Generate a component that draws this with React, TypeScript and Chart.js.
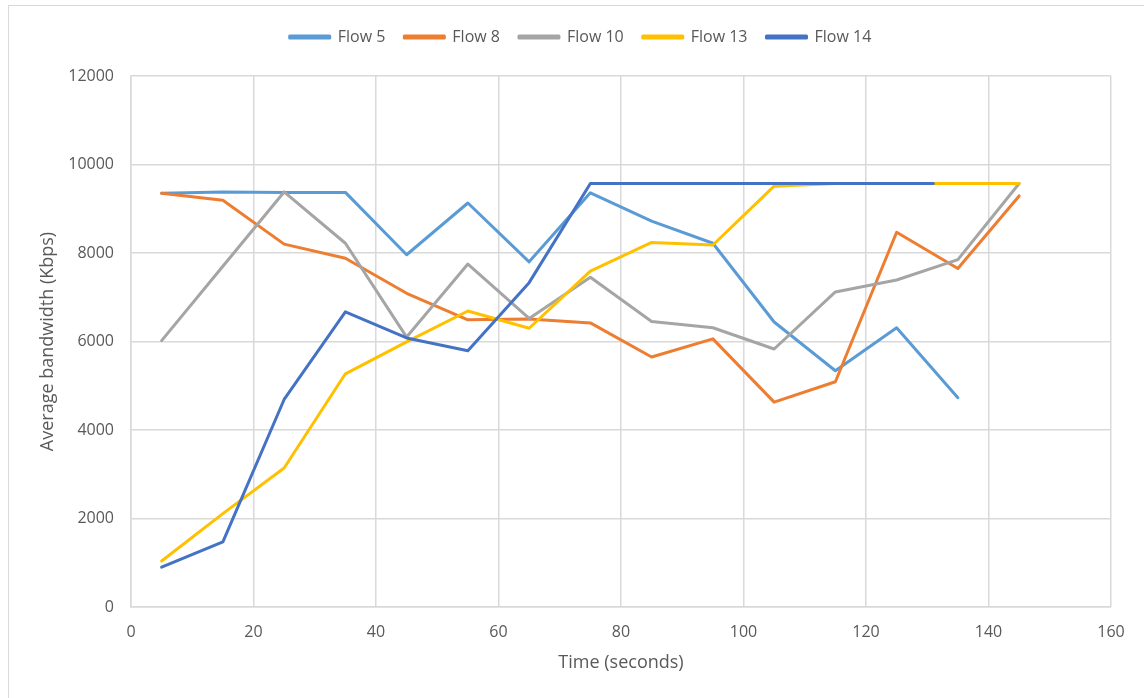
import React, { useEffect, useRef } from "react";
import { Chart, registerables } from "chart.js";
Chart.register(...registerables);

const timeSeconds = [5, 15, 25, 35, 45, 55, 65, 75, 85, 95, 105, 115, 125, 135, 145];
const flow14Time = [5, 15, 25, 35, 45, 55, 65, 75, 85, 95, 105, 115, 125, 131];

const flow5 = [9350, 9380, 9370, 9370, 7960, 9130, 7800, 9360, 8720, 8220, 6440, 5340, 6310, 4730];
const flow8 = [9350, 9190, 8200, 7880, 7090, 6490, 6510, 6420, 5650, 6060, 4630, 5090, 8470, 7650, 9290];
const flow10 = [6020, 7700, 9380, 8220, 6100, 7750, 6520, 7450, 6450, 6310, 5830, 7120, 7390, 7850, 9570];
const flow13 = [1040, 2110, 3140, 5270, 5990, 6690, 6300, 7590, 8240, 8180, 9510, 9570, 9570, 9570, 9570];
const flow14 = [900, 1470, 4690, 6670, 6080, 5790, 7330, 9570, 9570, 9570, 9570, 9570, 9570, 9570];

const seriesNames = ["Flow 5", "Flow 8", "Flow 10", "Flow 13", "Flow 14"];
const seriesColors = ["#5B9BD5", "#ED7D31", "#A5A5A5", "#FFC000", "#4472C4"];

const xMin = 0, xMax = 160, xStep = 20;
const yMin = 0, yMax = 12000, yStep = 2000;

const FONT = "'Open Sans', 'DejaVu Sans', sans-serif";
const TEXT = "#595959";
const GRID = "#D9D9D9";
const PAD_TOP = 10;
const LEGEND_H = 66;

function pts(xs: number[], ys: number[]) {
  return ys.map((y, i) => ({ x: xs[i], y }));
}

const legendHeightPlugin = {
  id: "legendHeight",
  beforeLayout(chart: any) {
    const lg = chart.legend;
    if (lg && !lg._fixedHeight) {
      const orig = lg.fit.bind(lg);
      lg.fit = function () {
        orig();
        this.height = LEGEND_H;
      };
      lg._fixedHeight = true;
    }
  },
};

export default function App() {
  const ref = useRef<HTMLCanvasElement | null>(null);
  useEffect(() => {
    if (!ref.current) return;
    const seriesData = [
      pts(timeSeconds, flow5),
      pts(timeSeconds, flow8),
      pts(timeSeconds, flow10),
      pts(timeSeconds, flow13),
      pts(flow14Time, flow14),
    ];
    const chart = new Chart(ref.current, {
      type: "line",
      data: {
        datasets: seriesNames.map((name, i) => ({
          label: name,
          data: seriesData[i],
          borderColor: seriesColors[i],
          backgroundColor: seriesColors[i],
          borderWidth: 3,
          pointRadius: 0,
          tension: 0,
          borderJoinStyle: "round" as const,
          borderCapStyle: "round" as const,
          order: seriesNames.length - i,
        })),
      },
      plugins: [legendHeightPlugin],
      options: {
        animation: false,
        responsive: false,
        devicePixelRatio: 1,
        layout: { padding: { left: 50, right: 33, top: PAD_TOP, bottom: 0 } },
        plugins: {
          tooltip: { enabled: false },
          legend: {
            position: "top",
            align: "center",
            labels: {
              font: { family: FONT, size: 16 },
              color: TEXT,
              boxWidth: 40,
              boxHeight: 2,
              padding: 19,
              sort: (a: any, b: any) => a.datasetIndex - b.datasetIndex,
            },
          },
        },
        scales: {
          x: {
            type: "linear",
            min: xMin,
            max: xMax,
            ticks: { stepSize: xStep, color: TEXT, font: { family: FONT, size: 16 }, padding: 16, maxRotation: 0 },
            grid: { color: GRID, lineWidth: 1.5, drawTicks: false },
            border: { color: GRID, width: 1.5 },
            title: { display: true, text: "Time (seconds)", color: TEXT, font: { family: FONT, size: 18 }, padding: { top: 0, bottom: 24 } },
            afterFit: (s: any) => { s.height = 91; },
          },
          y: {
            type: "linear",
            min: yMin,
            max: yMax,
            ticks: {
              stepSize: yStep,
              color: TEXT,
              font: { family: FONT, size: 16 },
              padding: 17,
              callback: (v: any) => String(v),
            },
            grid: { color: GRID, lineWidth: 1.5, drawTicks: false },
            border: { color: GRID, width: 1.5 },
            title: { display: true, text: "Average bandwidth (Kbps)", color: TEXT, font: { family: FONT, size: 18 }, padding: { top: -13, bottom: 0 } },
            afterFit: (s: any) => { s.width = 81; },
          },
        },
      },
    });
    return () => chart.destroy();
  }, []);
  return (
    <div style={{ position: "fixed", left: 0, top: 0, width: 1144, height: 698, overflow: "hidden", background: "#fff" }}>
      <div style={{ position: "absolute", left: 8, top: 5, width: 1150, height: 710, border: "1.5px solid #D9D9D9", boxSizing: "border-box" }} />
      <canvas ref={ref} width={1144} height={698} style={{ position: "absolute", left: 0, top: 0, width: 1144, height: 698 }} />
    </div>
  );
}
